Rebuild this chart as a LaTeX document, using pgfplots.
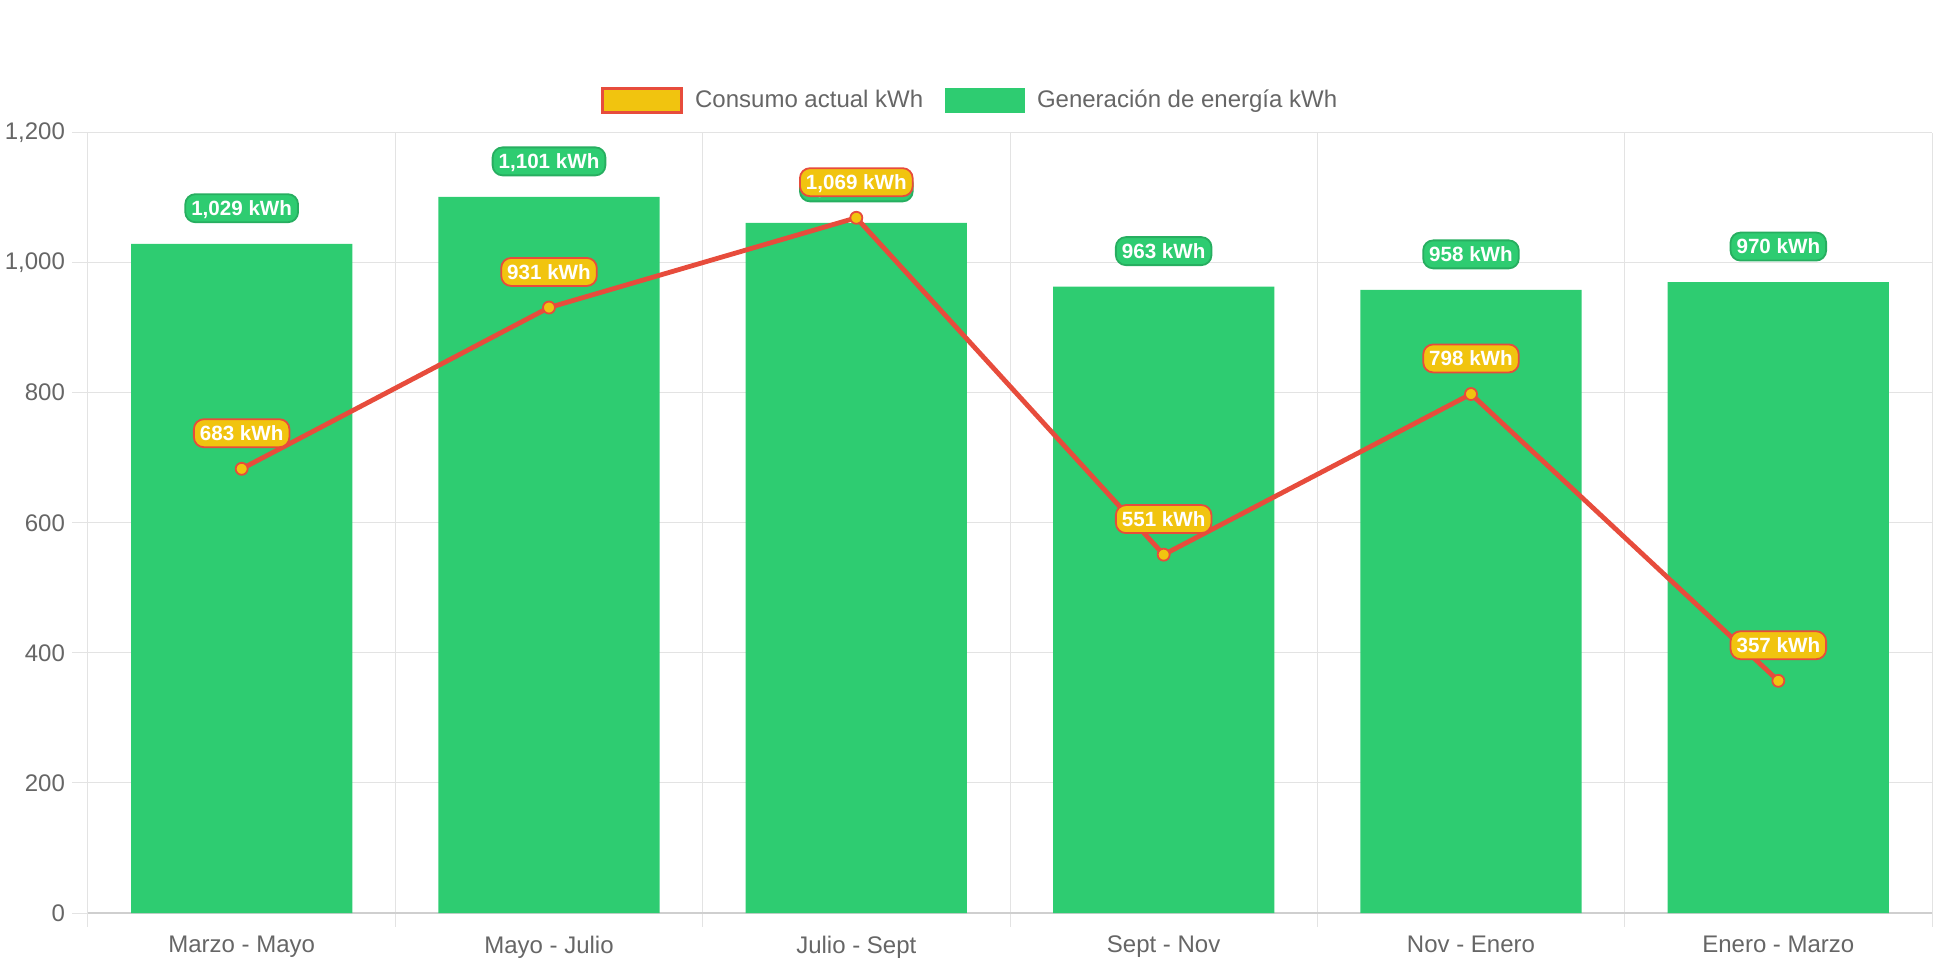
\documentclass[border=0pt]{standalone}
\usepackage{fontspec}
\setmainfont{Liberation Sans}
\usepackage{pgfplots}
\pgfplotsset{compat=1.18}
\definecolor{cgreen}{HTML}{2ECC71}
\definecolor{cgreendark}{HTML}{27AE60}
\definecolor{cyellow}{HTML}{F1C40F}
\definecolor{cred}{HTML}{E74C3C}
\definecolor{gridgray}{HTML}{E3E3E3}
\definecolor{zerogray}{HTML}{CFCFCF}
\definecolor{textgray}{HTML}{666666}
\tikzset{
  labelbase/.style={rounded corners=5pt, text=white, font=\fontsize{10.3}{12}\selectfont\bfseries,
    inner xsep=3pt, inner ysep=3pt, text height=7.6pt, text depth=0.4pt, line width=0.9pt,
    anchor=center, yshift=17.8pt},
  labelgreen/.style={labelbase, fill=cgreen, draw=cgreendark},
  labelyellow/.style={labelbase, fill=cyellow, draw=cred},
}
\begin{document}
\begin{tikzpicture}
\path[use as bounding box] (-44pt,-28.5pt) rectangle (927pt,456.5pt);
\begin{axis}[
  at={(0pt,0pt)}, anchor=south west,
  scale only axis, width=922pt, height=390.2pt,
  xmin=-0.5, xmax=5.5, ymin=0, ymax=1200,
  xtick={0,1,2,3,4,5},
  xticklabels={Marzo - Mayo, Mayo - Julio, Julio - Sept, Sept - Nov, Nov - Enero, Enero - Marzo},
  minor xtick={-0.5,0.5,1.5,2.5,3.5,4.5,5.5},
  ytick={0,200,400,600,800,1000,1200},
  xminorgrids=true, ymajorgrids=true,
  grid style={draw=gridgray, line width=0.5pt},
  minor grid style={draw=gridgray, line width=0.5pt},
  tick align=outside,
  major tick length=8pt, minor tick length=7pt,
  major x tick style={draw opacity=0},
  minor x tick style={draw=gridgray, line width=0.5pt},
  major y tick style={draw=gridgray, line width=0.5pt},
  axis x line*=bottom, axis y line*=left,
  x axis line style={-, draw=zerogray, line width=1pt},
  y axis line style={-, draw=gridgray, line width=0.5pt},
  /pgf/number format/assume math mode=true,
  /pgf/number format/1000 sep={,},
  tick label style={text=textgray, font=\fontsize{12}{14}\selectfont},
  yticklabel style={xshift=0pt},
  legend style={at={(axis description cs:0.4789,1.0413)}, anchor=center,
    draw=none, fill=none, font=\fontsize{12}{14}\selectfont, text=textgray,
    /tikz/every odd column/.append style={column sep=4pt},
    /tikz/every even column/.append style={column sep=9pt}},
  legend columns=2,
]
\addlegendimage{legend image code/.code={\draw[fill=cyellow,draw=cred,line width=1.6pt] (0pt,-6pt) rectangle (39.5pt,6pt);}}
\addlegendentry{Consumo actual kWh}
\addlegendimage{legend image code/.code={\fill[cgreen] (0pt,-6pt) rectangle (39.5pt,6pt);}}
\addlegendentry{Generación de energía kWh}

\addplot[ybar, bar width=0.72, bar shift=0pt, fill=cgreen, draw=none, forget plot,
  nodes near coords={\pgfmathprintnumber{\pgfplotspointmeta} kWh},
  every node near coord/.append style={labelgreen}]
  coordinates {(0,1029) (1,1101) (2,1061) (3,963) (4,958) (5,970)};

\addplot[cred, line width=2.4pt, mark=*, mark size=3pt,
  mark options={fill=cyellow, draw=cred, line width=0.9pt}, forget plot,
  nodes near coords={\pgfmathprintnumber{\pgfplotspointmeta} kWh},
  every node near coord/.append style={labelyellow}]
  coordinates {(0,683) (1,931) (2,1069) (3,551) (4,798) (5,357)};
\end{axis}
\end{tikzpicture}
\end{document}
